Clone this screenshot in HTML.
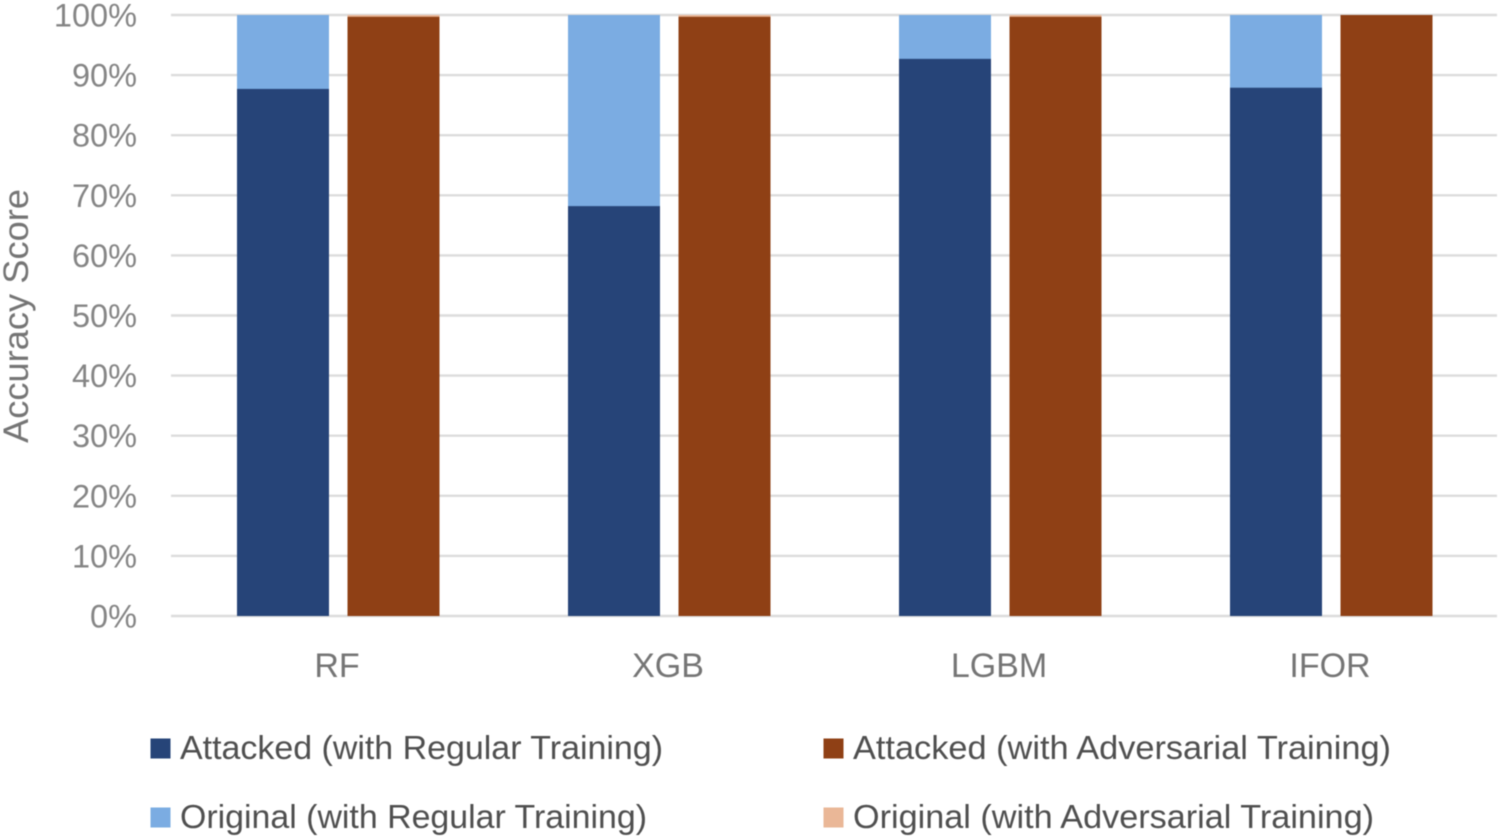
<!DOCTYPE html>
<html lang="en">
<head>
<meta charset="utf-8">
<title>Accuracy Score Chart</title>
<style>
html,body{margin:0;padding:0;background:#fff;width:1499px;height:839px;overflow:hidden}
svg{display:block;filter:blur(.5px)}
text{font-family:"Liberation Sans",sans-serif}
</style>
</head>
<body>
<svg id="chart" xmlns="http://www.w3.org/2000/svg" width="1499" height="839" viewBox="0 0 1499 839"></svg>
<script>
const categories = ["RF", "XGB", "LGBM", "IFOR"];
const attackedRegular = [87.7, 68.2, 92.7, 87.9];
const originalRegular = [100, 100, 100, 100];
const attackedAdversarial = [99.7, 99.7, 99.7, 100];
const originalAdversarial = [100, 100, 100, 100];
const yTicks = [0, 10, 20, 30, 40, 50, 60, 70, 80, 90, 100];
const legendLabels = [
  "Attacked (with Regular Training)",
  "Attacked (with Adversarial Training)",
  "Original (with Regular Training)",
  "Original (with Adversarial Training)"
];

const NS = "http://www.w3.org/2000/svg";
const svg = document.getElementById("chart");
const colors = { attackedRegular: "#264478", originalRegular: "#7bace2", attackedAdversarial: "#8f4015", originalAdversarial: "#eab797" };

function yScale(v) { return 616 - v * 6.01; }
function xCenter(i) { return 338 + i * 331; }

function make(tag, attrs, text) {
  const el = document.createElementNS(NS, tag);
  for (const k in attrs) el.setAttribute(k, attrs[k]);
  if (text !== undefined) el.textContent = text;
  svg.appendChild(el);
  return el;
}

yTicks.forEach(function (t) {
  const line = make("line", { x1: 171, x2: 1497, y1: yScale(t), y2: yScale(t), stroke: "#dcdcdc", "stroke-width": 2.4 });
  
  
  const label = make("text", { x: 137, y: yScale(t) + 11.5, "text-anchor": "end", "font-size": 32.5, fill: "#858585" }, t + "%");
  
  
});

function drawBar(x, v, color, name) {
  const rect = make("rect", { x: x, y: yScale(v), width: 92, height: yScale(0) - yScale(v), fill: color });
  
  
}

categories.forEach(function (c, i) {
  const cx = xCenter(i);
  drawBar(cx - 101, originalRegular[i], colors.originalRegular, 'bar-original-regular-' + c);
  drawBar(cx - 101, attackedRegular[i], colors.attackedRegular, 'bar-attacked-regular-' + c);
  drawBar(cx + 9.5, originalAdversarial[i], colors.originalAdversarial, 'bar-original-adversarial-' + c);
  drawBar(cx + 9.5, attackedAdversarial[i], colors.attackedAdversarial, 'bar-attacked-adversarial-' + c);
  const label = make("text", { x: cx - 1, y: 677, "text-anchor": "middle", "font-size": 34, fill: "#757575" }, c);
  
  
});

const axisTitle = make("text", { transform: "translate(28,316) rotate(-90)", "text-anchor": "middle", "font-size": 35, fill: "#757575", textLength: 254, lengthAdjust: "spacingAndGlyphs" }, "Accuracy Score");



const legendColors = [colors.attackedRegular, colors.attackedAdversarial, colors.originalRegular, colors.originalAdversarial];
const legendWidths = [483, 538, 467, 521];
legendLabels.forEach(function (txt, i) {
  const lx = i % 2 === 0 ? 150.5 : 823.5;
  const ly = i < 2 ? 738.5 : 807.5;
  const swatch = make("rect", { x: lx, y: ly, width: 20, height: 20, fill: legendColors[i] });
  
  
  const label = make("text", { x: lx + 29.5, y: ly + 20.5, "font-size": 33, fill: "#4f4f4f", textLength: legendWidths[i], lengthAdjust: "spacingAndGlyphs" }, txt);
  
  
});
</script>
</body>
</html>
